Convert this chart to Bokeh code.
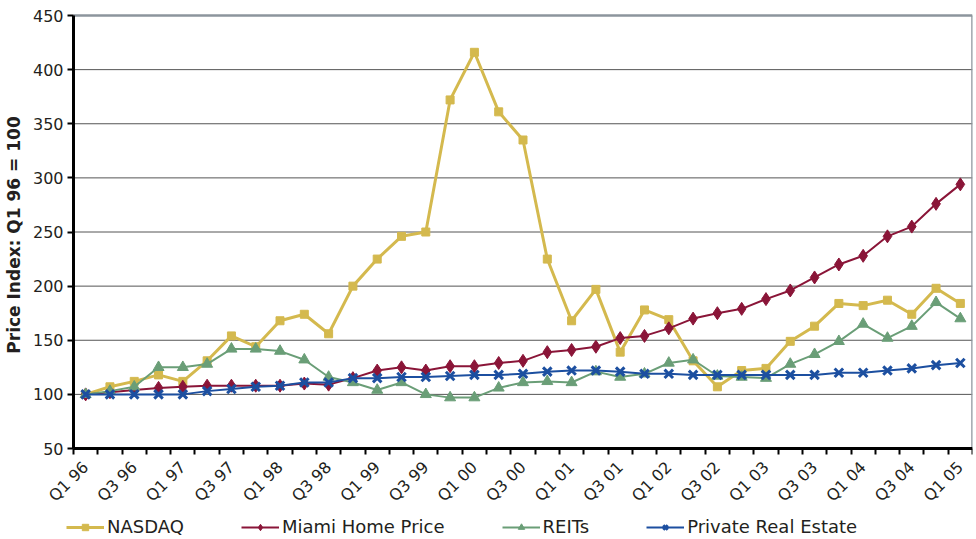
from math import pi

from bokeh.plotting import figure
from bokeh.models import FixedTicker, Legend, LegendItem, Range1d
from bokeh.embed import file_html
from bokeh.resources import INLINE

# Quarterly index values, Q1 1996 = 100
quarters = [
    "Q1 96", "Q2 96", "Q3 96", "Q4 96",
    "Q1 97", "Q2 97", "Q3 97", "Q4 97",
    "Q1 98", "Q2 98", "Q3 98", "Q4 98",
    "Q1 99", "Q2 99", "Q3 99", "Q4 99",
    "Q1 00", "Q2 00", "Q3 00", "Q4 00",
    "Q1 01", "Q2 01", "Q3 01", "Q4 01",
    "Q1 02", "Q2 02", "Q3 02", "Q4 02",
    "Q1 03", "Q2 03", "Q3 03", "Q4 03",
    "Q1 04", "Q2 04", "Q3 04", "Q4 04",
    "Q1 05",
]

nasdaq = [100, 107, 112, 118, 112, 131, 154, 144, 168, 174, 156, 200,
          225, 246, 250, 372, 416, 361, 335, 225, 168, 197, 139, 178,
          169, 131, 107, 122, 124, 149, 163, 184, 182, 187, 174, 198,
          184]

miami_home = [100, 102, 104, 106, 107, 108, 108, 108, 108, 110, 109, 115,
              122, 125, 122, 126, 126, 129, 131, 139, 141, 144, 152, 154,
              161, 170, 175, 179, 188, 196, 208, 220, 228, 246, 255, 276,
              294]

reits = [100, 103, 107, 125, 125, 128, 142, 142, 140, 132, 116, 111,
         104, 111, 100, 97, 97, 106, 111, 112, 111, 121, 116, 119,
         129, 132, 117, 116, 115, 128, 137, 149, 165, 152, 163, 185,
         170]

private_re = [100, 100, 100, 100, 100, 103, 105, 107, 108, 111, 111, 115,
              115, 116, 116, 117, 118, 118, 119, 121, 122, 122, 121, 119,
              119, 118, 118, 118, 118, 118, 118, 120, 120, 122, 124, 127,
              129]

y_ticks = [50, 100, 150, 200, 250, 300, 350, 400, 450]

FONT = "DejaVu Sans"
TEXT = "#231f20"
BORDER = "#8c959d"

x = list(range(len(quarters)))
x_lo, x_hi = -0.5, len(quarters) - 0.5
y_lo, y_hi = y_ticks[0], y_ticks[-1]

# One frame covers the whole page; the value area is 899 x 433 px with
# 73 px to its left for the value labels, 15 px above it and 91 px below
# for the quarter labels and the legend.
PLOT_W, LEFT_W = 899, 73
PLOT_H, TOP_H, BELOW_H = 433, 15, 91
x_start = x_lo - (x_hi - x_lo) * LEFT_W / PLOT_W
y_start = y_lo - (y_hi - y_lo) * BELOW_H / PLOT_H
y_end = y_hi + (y_hi - y_lo) * TOP_H / PLOT_H

p = figure(
    frame_width=PLOT_W + LEFT_W, frame_height=PLOT_H + TOP_H + BELOW_H,
    output_backend="svg", toolbar_location=None,
    x_range=Range1d(x_start, x_hi),
    y_range=Range1d(y_start, y_end),
    min_border_left=0, min_border_right=4,
    min_border_top=0, min_border_bottom=0,
)
p.background_fill_color = "white"
p.border_fill_color = "white"
p.outline_line_color = None
p.xgrid.grid_line_color = None
p.ygrid.grid_line_color = None

# horizontal guide lines across the value area only
p.segment(x0=x_lo, y0=y_ticks[1:-1], x1=x_hi, y1=y_ticks[1:-1],
          line_color="#555555", line_width=1)

# grey top and right edges of the value area
p.segment(x0=[x_lo, x_hi], y0=[y_hi, y_lo], x1=[x_hi, x_hi], y1=[y_hi, y_hi],
          line_color=BORDER, line_width=2.5)

# x axis pinned at the 50 line: labels on every other quarter,
# tick marks between quarters
label_pos = x[::2]
xaxis = p.xaxis[0]
xaxis.fixed_location = y_lo
xaxis.bounds = (x_lo, x_hi)
xaxis.ticker = FixedTicker(ticks=label_pos,
                           minor_ticks=[i - 0.5 for i in range(len(quarters) + 1)])
xaxis.major_label_overrides = {i: quarters[i] for i in label_pos}
xaxis.major_label_orientation = pi / 4
xaxis.major_tick_out = 0
xaxis.major_tick_in = 0
xaxis.minor_tick_out = 6
xaxis.minor_tick_in = 0
xaxis.minor_tick_line_color = "black"
xaxis.minor_tick_line_width = 2
xaxis.axis_line_color = "black"
xaxis.axis_line_width = 3
xaxis.major_label_text_font = FONT
xaxis.major_label_text_font_size = "16px"
xaxis.major_label_text_color = TEXT
xaxis.major_label_standoff = 10

# y axis pinned at the left edge of the value area
yaxis = p.yaxis[0]
yaxis.fixed_location = x_lo
yaxis.bounds = (y_lo, y_hi)
yaxis.ticker = FixedTicker(ticks=y_ticks)
yaxis.minor_tick_line_color = None
yaxis.major_tick_out = 6
yaxis.major_tick_in = 0
yaxis.major_tick_line_color = "black"
yaxis.major_tick_line_width = 2
yaxis.axis_line_color = "black"
yaxis.axis_line_width = 3
yaxis.major_label_text_font = FONT
yaxis.major_label_text_font_size = "16px"
yaxis.major_label_text_color = TEXT
yaxis.major_label_standoff = 4
yaxis.axis_label = "Price Index: Q1 96  = 100"
yaxis.axis_label_text_font = FONT
yaxis.axis_label_text_font_size = "17px"
yaxis.axis_label_text_font_style = "bold"
yaxis.axis_label_text_color = TEXT
yaxis.axis_label_standoff = 6

series = [
    ("NASDAQ", nasdaq, "#d4b94e", 3, "square", 8),
    ("Miami Home Price", miami_home, "#8a1538", 2, "diamond", 13),
    ("REITs", reits, "#6a9e77", 2, "triangle", 11),
    ("Private Real Estate", private_re, "#1c4fa0", 2, "x", 12),
]

items = []
for name, vals, color, lw, marker, size in series:
    ln = p.line(x, vals, line_color=color, line_width=lw)
    if marker == "x":
        mk = p.scatter(x, vals, marker="x", size=size, line_color=color,
                       line_width=3)
    else:
        mk = p.scatter(x, vals, marker=marker, size=size, fill_color=color,
                       line_color=color, line_width=1)
    items.append(LegendItem(label=name, renderers=[ln, mk]))

# legend row under the rotated quarter labels
legend = Legend(
    items=items, orientation="horizontal", location=(66, 2),
    glyph_width=38, glyph_height=16, label_standoff=3, spacing=57,
    padding=0, margin=0,
    label_text_font=FONT, label_text_font_size="18px",
    label_text_color=TEXT,
    border_line_color=None, background_fill_alpha=0,
)
p.add_layout(legend)

open("out.html", "w").write(file_html(p, INLINE))
